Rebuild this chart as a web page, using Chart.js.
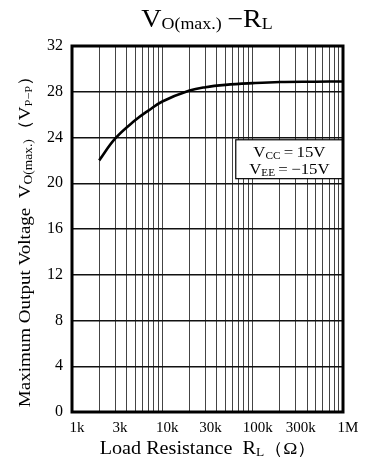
<!DOCTYPE html>
<html>
<head>
<meta charset="utf-8">
<script src="https://cdn.jsdelivr.net/npm/chart.js"></script>
<style>
  html, body { margin: 0; padding: 0; background: #fff; }
  #wrap { width: 379px; height: 467px; }
</style>
</head>
<body>
<div id="wrap"><canvas id="chart" width="379" height="467"></canvas></div>
<script>
    // Data
    const resistance = [2000, 3000, 5000, 7000, 10000, 20000, 30000, 50000, 100000, 200000, 500000, 1000000];
    const voltage = [22.0, 23.9, 25.5, 26.35, 27.15, 28.1, 28.4, 28.6, 28.75, 28.85, 28.88, 28.9];

    const xTickValues = [1000, 3000, 10000, 30000, 100000, 300000, 1000000];
    const xTickLabels = ['1k', '3k', '10k', '30k', '100k', '300k', '1M'];
    const yTicks = [0, 4, 8, 12, 16, 20, 24, 28, 32];

    const SERIF = '"Liberation Serif", "DejaVu Serif", serif';
    const STRETCH = 1.12;

    // minor grid lines: 1..9 per decade
    const xGrid = [];
    for (let d = 1000; d < 1000000; d *= 10) {
        for (let m = 1; m < 10; m++) xGrid.push(d * m);
    }
    xGrid.push(1000000);

    // text pieces with sub-scripts, slightly widened like the printed font
    function richWidth(ctx, parts) {
        let w = 0;
        parts.forEach(p => {
            ctx.font = p.size + 'px ' + SERIF;
            w += ctx.measureText(p.t).width * STRETCH;
        });
        return w;
    }
    function drawRich(ctx, parts, x, y) {
        parts.forEach(p => {
            ctx.font = p.size + 'px ' + SERIF;
            ctx.save();
            ctx.translate(x, y + (p.dy || 0));
            ctx.scale(STRETCH, 1);
            ctx.fillText(p.t, 0, 0);
            ctx.restore();
            x += ctx.measureText(p.t).width * STRETCH;
        });
    }

    const decorations = {
        id: 'decorations',
        beforeDatasetsDraw(chart) {
            const ctx = chart.ctx;
            const xs = chart.scales.x, ys = chart.scales.y;
            // condition box
            const left = xs.getPixelForValue(65000);
            const right = chart.chartArea.right;
            const top = ys.getPixelForValue(23.8);
            const bottom = ys.getPixelForValue(20.4);
            ctx.save();
            ctx.fillStyle = '#fff';
            ctx.fillRect(left, top, right - left, bottom - top);
            ctx.strokeStyle = '#000';
            ctx.lineWidth = 1.2;
            ctx.strokeRect(left, top, right - left, bottom - top);
            ctx.fillStyle = '#000';
            ctx.textBaseline = 'alphabetic';
            const l1 = [{t: 'V', size: 15}, {t: 'CC', size: 10, dy: 2}, {t: '\u2009=\u200915V', size: 15}];
            const l2 = [{t: 'V', size: 15}, {t: 'EE', size: 10, dy: 2}, {t: '\u2009=\u2009\u221215V', size: 15}];
            const cx = (left + right) / 2;
            drawRich(ctx, l1, cx - richWidth(ctx, l1) / 2, top + 17);
            drawRich(ctx, l2, cx - richWidth(ctx, l2) / 2, top + 34);
            ctx.restore();
        },
        afterDraw(chart) {
            const ctx = chart.ctx;
            const a = chart.chartArea;
            ctx.save();
            // heavy frame
            ctx.strokeStyle = '#000';
            ctx.lineWidth = 3;
            ctx.strokeRect(a.left, a.top, a.right - a.left, a.bottom - a.top);

            ctx.fillStyle = '#000';
            ctx.textBaseline = 'alphabetic';
            // title
            const title = [{t: 'V', size: 25}, {t: 'O(max.)', size: 16, dy: 2}, {t: '\u2009\u2212R', size: 25}, {t: 'L', size: 16, dy: 2}];
            drawRich(ctx, title, 207 - richWidth(ctx, title) / 2, 27);

            // x axis title
            const xt = [{t: 'Load Resistance  R', size: 18}, {t: 'L', size: 12, dy: 2}, {t: '\uFF08\u03A9\uFF09', size: 17}];
            drawRich(ctx, xt, 208 - richWidth(ctx, xt) / 2, 454);

            // y axis title (rotated)
            const yt = [{t: 'Maximum Output Voltage  V', size: 17}, {t: 'O(max.)', size: 12, dy: 2}, {t: '\uFF08V', size: 17}, {t: 'P\u2212P', size: 11, dy: 2}, {t: '\uFF09', size: 17}];
            ctx.translate(30, 237);
            ctx.rotate(-Math.PI / 2);
            drawRich(ctx, yt, -richWidth(ctx, yt) / 2, 0);
            ctx.restore();
        }
    };

    new Chart(document.getElementById('chart'), {
        type: 'line',
        data: {
            datasets: [{
                data: resistance.map((r, i) => ({x: r, y: voltage[i]})),
                borderColor: '#000',
                borderWidth: 2.6,
                pointRadius: 0,
                fill: false,
                tension: 0.4
            }]
        },
        options: {
            responsive: false,
            animation: false,
            events: [],
            layout: { padding: { top: 46, right: 36, left: 0, bottom: 0 } },
            plugins: { legend: { display: false }, tooltip: { enabled: false } },
            scales: {
                x: {
                    type: 'logarithmic',
                    min: 1000,
                    max: 1000000,
                    afterBuildTicks: (scale) => { scale.ticks = xGrid.map(v => ({value: v})); },
                    afterFit: (scale) => { scale.height = 55; },
                    grid: { color: '#444', lineWidth: 1, drawTicks: false },
                    border: { display: false },
                    ticks: {
                        autoSkip: false,
                        maxRotation: 0,
                        padding: 7,
                        labelOffset: 5,
                        color: '#000',
                        font: { family: SERIF, size: 15 },
                        callback: (v) => {
                            const i = xTickValues.indexOf(v);
                            return i >= 0 ? xTickLabels[i] : '';
                        }
                    }
                },
                y: {
                    min: 0,
                    max: 32,
                    afterBuildTicks: (scale) => { scale.ticks = yTicks.map(v => ({value: v})); },
                    afterFit: (scale) => { scale.width = 72; },
                    grid: { color: '#111', lineWidth: 1.4, drawTicks: false },
                    border: { display: false },
                    ticks: {
                        padding: 9,
                        color: '#000',
                        font: { family: SERIF, size: 16 }
                    }
                }
            }
        },
        plugins: [decorations]
    });
</script>
</body>
</html>
